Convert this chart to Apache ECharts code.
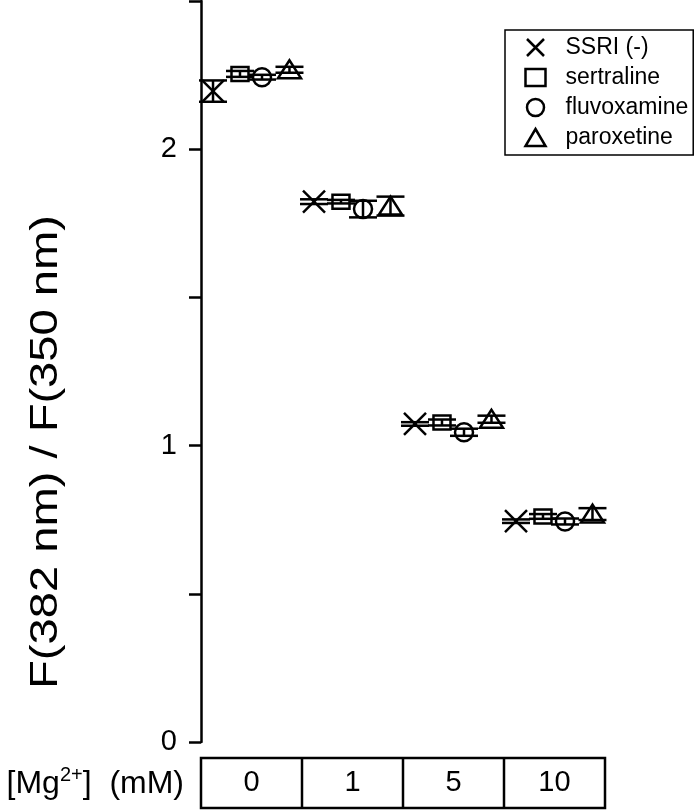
<!DOCTYPE html>
<html><head><meta charset="utf-8">
<script src="https://cdn.jsdelivr.net/npm/echarts@6/dist/echarts.min.js"></script>
<style>html,body{margin:0;padding:0;background:#fff}#c{width:698px;height:810px}</style>
</head><body><div id="c"></div>
<script>
const categories = ['0', '1', '5', '10'];
const seriesNames = ['SSRI (-)', 'sertraline', 'fluvoxamine', 'paroxetine'];
const ssri = [2.196, 1.823, 1.073, 0.745];
const ssriErr = [0.036, 0.008, 0.006, 0.006];
const sertraline = [2.254, 1.823, 1.078, 0.761];
const sertralineErr = [0.010, 0.006, 0.010, 0.008];
const fluvoxamine = [2.243, 1.798, 1.045, 0.744];
const fluvoxamineErr = [0.008, 0.028, 0.012, 0.010];
const paroxetine = [2.268, 1.808, 1.089, 0.769];
const paroxetineErr = [0.010, 0.032, 0.012, 0.020];
const yTicks = [0, 1, 2];

const FONT = 'Liberation Sans, Arial, sans-serif';
const G = {left: 201, top: 1, width: 404, height: 741};
const LW = 2.5;
const values = [ssri, sertraline, fluvoxamine, paroxetine];
const errs = [ssriErr, sertralineErr, fluvoxamineErr, paroxetineErr];
const symbolKinds = ['x', 'square', 'circle', 'triangle'];
const offsets = [-0.381, -0.114, 0.104, 0.376];

function makeRender(si) {
  return function (params, api) {
    const ci = api.value(0), v = api.value(1), e = api.value(2);
    const c = api.coord([ci, v]);
    const bw = api.size([1, 0])[0];
    const x = c[0] + offsets[si] * bw;
    const y = c[1];
    const yt = api.coord([ci, v + e])[1];
    const yb = api.coord([ci, v - e])[1];
    const st = {stroke: '#000', lineWidth: LW, fill: 'none'};
    const fillSt = {stroke: '#000', lineWidth: LW, fill: '#fff'};
    const cw = 14;
    const bars = [
      {type: 'line', shape: {x1: x, y1: yt, x2: x, y2: yb}, style: st},
      {type: 'line', shape: {x1: x - cw, y1: yt, x2: x + cw, y2: yt}, style: st},
      {type: 'line', shape: {x1: x - cw, y1: yb, x2: x + cw, y2: yb}, style: st}
    ];
    let ch = [];
    const k = symbolKinds[si];
    if (k === 'x') {
      ch = bars.concat([
        {type: 'line', shape: {x1: x - 11, y1: y - 11, x2: x + 11, y2: y + 11}, style: st},
        {type: 'line', shape: {x1: x - 11, y1: y + 11, x2: x + 11, y2: y - 11}, style: st}
      ]);
    } else if (k === 'square') {
      ch = [{type: 'rect', shape: {x: x - 8.5, y: y - 7, width: 17, height: 14}, style: fillSt}].concat(bars);
    } else if (k === 'circle') {
      ch = [{type: 'circle', shape: {cx: x, cy: y, r: 9}, style: fillSt}].concat(bars);
    } else {
      ch = [{type: 'polygon', shape: {points: [[x, y - 9.5], [x - 11.5, y + 8.5], [x + 11.5, y + 8.5]]}, style: fillSt}].concat(bars);
    }
    return {type: 'group', children: ch};
  };
}

const legendIcons = ['path://M0,0L20,20M20,0L0,20', 'rect', 'circle', 'triangle'];

const series = seriesNames.map((name, si) => ({
  name: name,
  type: 'custom',
  renderItem: makeRender(si),
  encode: {x: 0, y: 1},
  data: categories.map((c, ci) => [ci, values[si][ci], errs[si][ci]]),
  itemStyle: {color: '#000'},
  z: 2 + si
}));

const tableChildren = [
  {type: 'rect', shape: {x: G.left, y: 758, width: G.width, height: 50}, style: {fill: 'none', stroke: '#000', lineWidth: LW}}
];
for (let i = 1; i < categories.length; i++) {
  const xx = G.left + i * G.width / categories.length;
  tableChildren.push({type: 'line', shape: {x1: xx, y1: 758, x2: xx, y2: 808}, style: {stroke: '#000', lineWidth: LW}});
}

const chart = echarts.init(document.getElementById('c'), null, {renderer: 'canvas'});
chart.setOption({
  backgroundColor: '#fff',
  animation: false,
  grid: {left: G.left, top: G.top, width: G.width, height: G.height},
  xAxis: {
    type: 'category', data: categories,
    axisLine: {show: false}, axisTick: {show: false}, splitLine: {show: false},
    axisLabel: {fontSize: 29, fontFamily: FONT, color: '#000', margin: 26}
  },
  yAxis: {
    type: 'value', min: 0, max: 2.5, interval: 0.5,
    axisLine: {show: true, lineStyle: {color: '#000', width: LW}},
    axisTick: {show: true, length: 12, lineStyle: {color: '#000', width: LW}},
    splitLine: {show: false},
    axisLabel: {
      fontSize: 29, fontFamily: FONT, color: '#000', margin: 24,
      formatter: v => (yTicks.indexOf(v) >= 0 ? String(v) : '')
    }
  },
  legend: {
    orient: 'vertical', left: 505, top: 30,
    padding: [6, 5, 6, 18],
    borderColor: '#000', borderWidth: 1.5,
    itemWidth: 20, itemHeight: 17, itemGap: 7,
    textStyle: {fontSize: 23, fontFamily: FONT, color: '#000', padding: [0, 0, 0, 15]},
    itemStyle: {color: 'none', borderColor: '#000', borderWidth: LW},
    data: seriesNames.map((n, i) => ({name: n, icon: legendIcons[i], itemStyle: {color: 'none', borderColor: '#000', borderWidth: LW}}))
  },
  graphic: [
    {type: 'group', children: tableChildren},
    {type: 'text', x: 47, y: 452, rotation: Math.PI / 2, scaleX: 1.24,
     style: {text: 'F(382 nm) / F(350 nm)', fontSize: 38, fontFamily: FONT, fill: '#000', align: 'center', verticalAlign: 'middle'}},
    {type: 'text', x: 184, y: 784,
     style: {text: '{a|[Mg}{s|2+}{a|]  (mM)}', align: 'right', verticalAlign: 'middle',
       rich: {a: {fontSize: 32, fontFamily: FONT, fill: '#000', color: '#000'},
              s: {fontSize: 20, fontFamily: FONT, color: '#000', fill: '#000', padding: [0, 0, 18, 0]}}}}
  ],
  series: series
});
</script></body></html>
